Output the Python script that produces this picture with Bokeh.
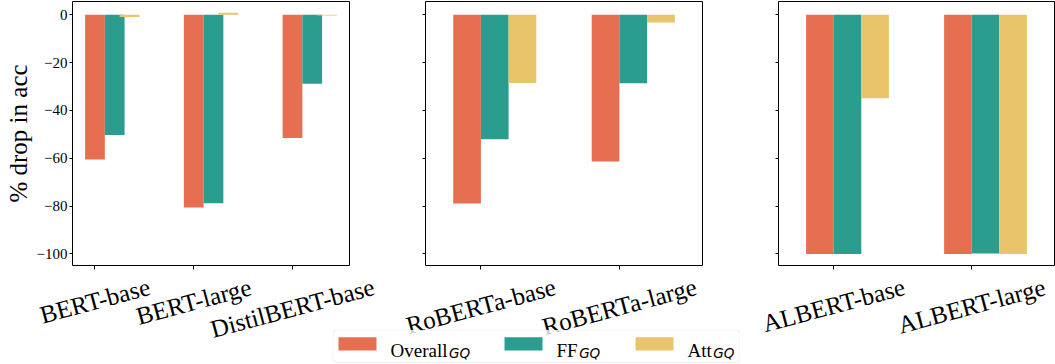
import math
from bokeh.plotting import figure
from bokeh.models import Range1d, FixedTicker, ColumnDataSource, BoxAnnotation
from bokeh.layouts import row, column
from bokeh.transform import dodge
from bokeh.core.properties import value
from bokeh.embed import file_html
from bokeh.resources import INLINE

# ---------------- data ----------------
models = ["BERT-base", "BERT-large", "DistilBERT-base",
          "RoBERTa-base", "RoBERTa-large",
          "ALBERT-base", "ALBERT-large"]
overall = [-60.5, -80.6, -51.5, -78.9, -61.4, -100.0, -100.0]
ff      = [-50.3, -78.8, -28.9, -52.1, -28.7, -100.0, -99.8]
att     = [-0.9, 0.8, -0.3, -28.5, -3.3, -34.9, -100.0]
panel_groups = [[0, 1, 2], [3, 4], [5, 6]]
series_names = ["Overall", "FF", "Att"]
series_sub = "GQ"
colors = ["#E76F51", "#2A9D8F", "#E9C46A"]
yticks = [-100, -80, -60, -40, -20, 0]
y_label = "% drop in acc"

# ---------------- style ----------------
SERIF = "Liberation Serif"
TOTAL_H = 363
H1 = 272            # panel figures (frame + ticks)
OVERLAP = 8         # label strip slides up under the tick marks (transparent)
H2 = TOTAL_H - H1 + OVERLAP
TOP = 1
FRAME_H = 264
YMIN, YMAX = -104.86, 5.53
specs = [
    dict(width=390, left=72, fw=277, xr=(-0.2275, 2.5775), offs=(0.0, 0.2, 0.35), ylabels=True),
    dict(width=362, left=35, fw=277, xr=(-0.4, 1.6), offs=(-0.1, 0.1, 0.3), ylabels=False),
    dict(width=303, left=26, fw=276, xr=(-0.4, 1.6), offs=(-0.1, 0.1, 0.3), ylabels=False),
]

TIMES_EM = {"A": .722, "B": .667, "D": .722, "E": .611, "L": .611, "R": .667, "T": .611,
            "F": .556, "O": .722, "v": .5,
            "-": .333, "a": .444, "b": .5, "e": .444, "g": .5, "i": .278, "l": .278,
            "o": .5, "r": .333, "s": .389, "t": .278}
XFS = 25
ANG = 15
LABEL_PAD = 7


def text_len(s, fs):
    return sum(TIMES_EM.get(c, 0.5) for c in s) * fs


def minus(t):
    return ("\u2212%d" % -t) if t < 0 else "%d" % t


figs, label_figs = [], []
th = math.radians(ANG)
for spec, idx in zip(specs, panel_groups):
    w, left, fw = spec["width"], spec["left"], spec["fw"]
    x0, x1 = spec["xr"]
    p = figure(width=w, height=H1, x_range=Range1d(x0, x1),
               y_range=Range1d(YMIN, YMAX),
               output_backend="svg", toolbar_location=None,
               min_border_left=left, min_border_right=w - left - fw,
               min_border_top=TOP, min_border_bottom=H1 - TOP - FRAME_H)
    p.xgrid.visible = False
    p.ygrid.visible = False
    p.outline_line_color = "black"
    p.outline_line_width = 1
    p.background_fill_color = "white"
    p.border_fill_color = "white"

    src = ColumnDataSource(dict(
        x=list(range(len(idx))),
        overall=[overall[i] for i in idx],
        ff=[ff[i] for i in idx],
        att=[att[i] for i in idx],
    ))
    for col, c, off in zip(["overall", "ff", "att"], colors, spec["offs"]):
        p.vbar(x=dodge("x", off), top=col, width=0.2, source=src,
               fill_color=c, line_color=None)

    # y axis
    p.yaxis.ticker = FixedTicker(ticks=yticks)
    p.yaxis.major_label_overrides = {t: (minus(t) if spec["ylabels"] else "") for t in yticks}
    p.yaxis.major_label_text_font = SERIF
    p.yaxis.major_label_text_font_size = "15px"
    p.yaxis.major_label_text_color = "black"
    p.yaxis.major_label_standoff = 2
    p.yaxis.major_tick_out = 3
    p.yaxis.major_tick_in = 0
    p.yaxis.major_tick_line_color = "black"
    p.yaxis.minor_tick_line_color = None
    p.yaxis.axis_line_color = None
    if spec["ylabels"]:
        p.yaxis.axis_label = y_label
        p.yaxis.axis_label_text_font = SERIF
        p.yaxis.axis_label_text_font_size = "25px"
        p.yaxis.axis_label_text_font_style = "normal"
        p.yaxis.axis_label_text_color = "black"
        p.yaxis.axis_label_standoff = 2

    # x axis: ticks only; the rotated, centred labels are drawn in the strip below
    p.xaxis.ticker = FixedTicker(ticks=list(range(len(idx))))
    p.xaxis.major_label_overrides = {i: "" for i in range(len(idx))}
    p.xaxis.major_label_text_font_size = "1px"
    p.xaxis.major_label_standoff = 0
    p.xaxis.major_tick_out = 4
    p.xaxis.major_tick_in = 0
    p.xaxis.major_tick_line_color = "black"
    p.xaxis.minor_tick_line_color = None
    p.xaxis.axis_line_color = None
    figs.append(p)

    # label strip sharing the same x scale (range widened to the strip's full width)
    ppx = fw / (x1 - x0)
    lx0 = x0 - left / ppx
    lx1 = x1 + (w - left - fw) / ppx
    lf = figure(width=w, height=H2, x_range=Range1d(lx0, lx1), y_range=Range1d(0, H2),
                output_backend="svg", toolbar_location=None,
                x_axis_type=None, y_axis_type=None, min_border=0)
    lf.grid.visible = False
    lf.outline_line_color = None
    lf.background_fill_color = None
    lf.border_fill_color = None
    names = [models[i] for i in idx]
    ys = []
    fb = H1 - OVERLAP - (TOP + FRAME_H)   # strip top -> frame bottom distance
    for name in names:
        L = text_len(name, XFS)
        hh = L * math.sin(th) + 1.1 * XFS * math.cos(th)
        depth = (LABEL_PAD + hh / 2) - fb  # centre depth below strip top
        ys.append(H2 - depth)
    lf.text(x=list(range(len(idx))), y=ys, text=names, angle=ANG, angle_units="deg",
            text_align="center", text_baseline="middle",
            text_font=value(SERIF), text_font_size="%dpx" % XFS, text_color="black")
    label_figs.append(lf)

# ---------------- legend ----------------
LW, LH = 408, 34
leg = figure(width=LW, height=LH, x_range=Range1d(0, LW), y_range=Range1d(0, LH),
             output_backend="svg", toolbar_location=None,
             x_axis_type=None, y_axis_type=None, min_border=0)
leg.grid.visible = False
leg.outline_line_color = None
leg.background_fill_color = None
leg.border_fill_color = None
leg.add_layout(BoxAnnotation(left=0.5, right=LW - 0.5, bottom=1, top=LH - 0.5,
                             fill_color="white", fill_alpha=0.8, level="underlay",
                             line_color="#cccccc", line_width=1, border_radius=4))
LFS = 19
patch_x = [6, 172, 303]
base_y = 13
for name, c, px in zip(series_names, colors, patch_x):
    leg.quad(left=[px], right=[px + 38], bottom=[base_y], top=[base_y + 13.3],
             fill_color=c, line_color=None)
    tx = px + 52
    leg.text(x=[tx], y=[base_y], text=[name], text_font=value(SERIF),
             text_font_size="%dpx" % LFS, text_baseline="alphabetic",
             text_align="left", text_color="black")
    sx = tx + text_len(name, LFS) + 1.5
    leg.text(x=[sx], y=[base_y - 2.5], text=[series_sub], text_font=value("DejaVu Sans"),
             text_font_style="italic", text_font_size="13.5px",
             text_baseline="alphabetic", text_align="left", text_color="black")
leg.margin = (-LH, 0, 0, 332)

strip = row(*label_figs, spacing=0)
strip.margin = (-OVERLAP, 0, 0, 0)
layout = column(row(*figs, spacing=0), strip, leg, spacing=0)
open("out.html", "w").write(file_html(layout, INLINE))
